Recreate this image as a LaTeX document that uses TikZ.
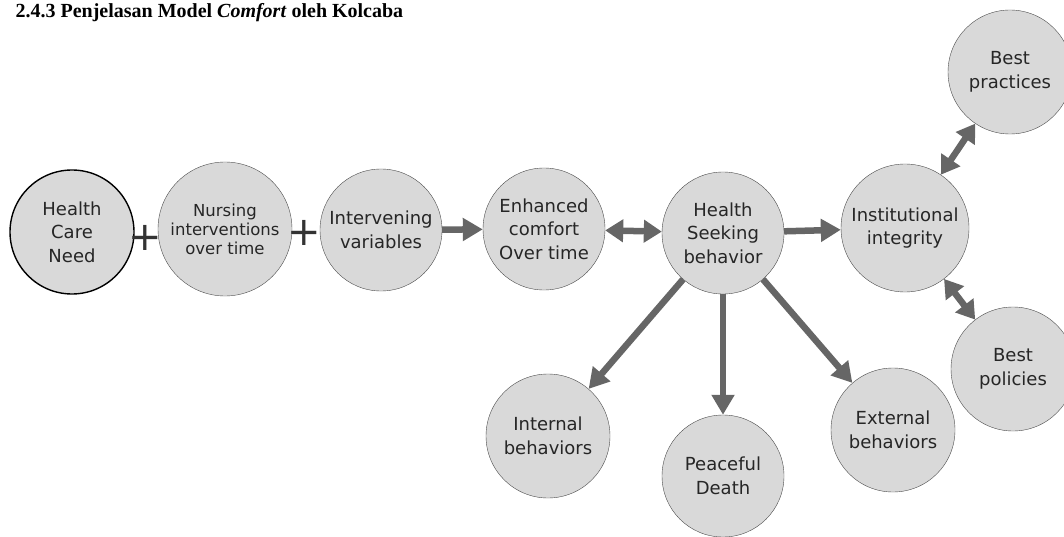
\documentclass[tikz,border=0pt]{standalone}
\usepackage{fontspec}
\setmainfont{Liberation Serif}
\newfontfamily\bubblefont{DejaVu Sans}
\usetikzlibrary{arrows.meta}

\tikzset{
    bubble/.style={circle, draw=gray!60!black, thin, fill=gray!30, minimum size=124pt,
        inner sep=0pt, align=center, text=black!85, font=\bubblefont\fontsize{18}{23.5}\selectfont},
    flow/.style={-{Triangle[length=20pt,width=22pt]}, line width=6.5pt, draw=gray!80!black},
    twoway/.style={{Triangle[length=18pt,width=22pt]}-{Triangle[length=18pt,width=22pt]}, line width=6.5pt, draw=gray!80!black},
    plus/.style={font=\bubblefont\fontsize{40}{40}\selectfont, text=gray!40!black, inner sep=0pt},
}

\begin{document}
\begin{tikzpicture}[x=1pt,y=-1pt]
    \useasboundingbox (0,0) rectangle (1064,537);

    \node[anchor=base west, font=\fontsize{20}{20}\selectfont\bfseries] (title) at (12,18)
        {2.4.3 Penjelasan Model \textit{Comfort} oleh Kolcaba};

    % chain along the middle
    \node[bubble, draw=black, line width=1.4pt] (need) at (72,232) {Health\\Care\\Need};
    \node[bubble, minimum size=134pt, font=\bubblefont\fontsize{16.5}{19}\selectfont] (nursing) at (225,229)
        {Nursing\\interventions\\over time};
    \node[bubble, minimum size=122pt] (vars) at (381,230) {Intervening\\variables};
    \node[bubble, minimum size=122pt] (comfort) at (544,229) {Enhanced\\comfort\\Over time};
    \node[bubble, minimum size=122pt] (seeking) at (723,233) {Health\\Seeking\\behavior};
    \node[bubble, minimum size=128pt] (integrity) at (905,228) {Institutional\\integrity};

    % right hand side
    \node[bubble] (practices) at (1010,72) {Best\\practices};
    \node[bubble] (policies) at (1013,369) {Best\\policies};

    % below health seeking
    \node[bubble] (internal) at (548,436) {Internal\\behaviors};
    \node[bubble, minimum size=122pt] (death) at (723,476) {Peaceful\\Death};
    \node[bubble] (external) at (893,430) {External\\behaviors};

    \node[plus] (p1) at (145,238) {+};
    \node[plus] (p2) at (304,233) {+};

    \draw[flow] (vars) -- (comfort);
    \draw[twoway] (comfort) -- (seeking);
    \draw[flow] (seeking) -- (integrity);
    \draw[twoway] (integrity) -- (practices);
    \draw[twoway] (integrity) -- (policies);
    \foreach \n in {internal,death,external}
        \draw[flow] (seeking) -- (\n);

\end{tikzpicture}
\end{document}
